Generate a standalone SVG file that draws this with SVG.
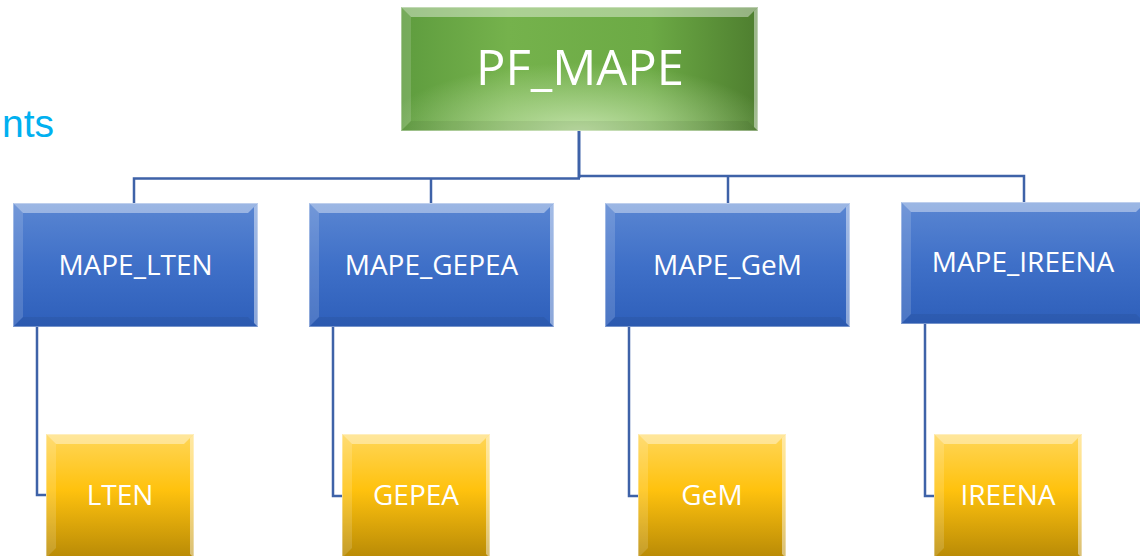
<svg xmlns="http://www.w3.org/2000/svg" width="1140" height="556" viewBox="0 0 1140 556">
<defs>
<linearGradient id="gGreen" x1="0" y1="0" x2="1" y2="0">
<stop offset="0" stop-color="#5E9C3E"/>
<stop offset="0.3" stop-color="#75B24C"/>
<stop offset="0.7" stop-color="#6CAA45"/>
<stop offset="1" stop-color="#4E7E2F"/>
</linearGradient>
<radialGradient id="gGreenGlow" cx="0.5" cy="1" r="0.55" fx="0.5" fy="1">
<stop offset="0" stop-color="#C8E6B0" stop-opacity="0.9"/>
<stop offset="1" stop-color="#C8E6B0" stop-opacity="0"/>
</radialGradient>
<linearGradient id="gBlue" x1="0" y1="0" x2="0" y2="1">
<stop offset="0" stop-color="#5A86D2"/>
<stop offset="0.5" stop-color="#3F70C8"/>
<stop offset="1" stop-color="#2E5FBA"/>
</linearGradient>
<linearGradient id="gYellow" x1="0" y1="0" x2="0" y2="1">
<stop offset="0" stop-color="#FFD659"/>
<stop offset="0.45" stop-color="#FFC20E"/>
<stop offset="1" stop-color="#B88A06"/>
</linearGradient>
<style>
.conn{fill:none;stroke:#3E62A8;stroke-width:2.5}
.btop{fill:#ffffff;fill-opacity:0.4}
.bleft{fill:#ffffff;fill-opacity:0.15}
.bright{fill:#ffffff;fill-opacity:0.45}
.bbot{fill:#000000;fill-opacity:0.06}
.edge{fill:none;stroke:#ffffff;stroke-opacity:0.35;stroke-width:1}
.lbl{font-family:"Open Sans","Noto Sans",sans-serif;fill:#ffffff;text-anchor:middle}
.t28{font-size:28px}
.t49{font-size:49px}
</style>
</defs>
<rect width="1140" height="556" fill="#ffffff"/>
<text x="2" y="137" font-family="Liberation Sans, Arial, sans-serif" font-size="39" fill="#00B0F0">nts</text>

<g id="connectors">
<path class="conn" d="M579 131 V178" style="stroke-width:3"/>
<path class="conn" d="M134 203 V178.5 H580"/>
<path class="conn" d="M431 178.5 V203"/>
<path class="conn" d="M579 176 H1024 V202"/>
<path class="conn" d="M728 176 V203"/>
<path class="conn" d="M37 327 V495 H46"/>
<path class="conn" d="M333 327 V496 H342"/>
<path class="conn" d="M629 327 V496 H638"/>
<path class="conn" d="M925 324 V496 H934"/>
</g>

<g id="node-pf-mape">
<rect x="401" y="7" width="357" height="124" fill="url(#gGreen)"/>
<rect x="401" y="7" width="357" height="124" fill="url(#gGreenGlow)"/>
<polygon class="btop" points="401,7 758,7 748,17 411,17"/>
<polygon class="bleft" points="401,7 411,17 411,121 401,131"/>
<polygon class="bright" points="758,7 758,131 754,127 754,11"/>
<polygon class="bbot" points="401,131 758,131 748,121 411,121"/>
<rect class="edge" x="401.5" y="7.5" width="356" height="123"/>
<text class="lbl t49" x="580" y="85">PF_MAPE</text>
</g>

<g id="node-mape-lten">
<rect x="13" y="203" width="245" height="124" fill="url(#gBlue)"/>
<polygon class="btop" points="13,203 258,203 248,213 23,213"/>
<polygon class="bleft" points="13,203 23,213 23,317 13,327"/>
<polygon class="bright" points="258,203 258,327 254,323 254,207"/>
<polygon class="bbot" points="13,327 258,327 248,317 23,317"/>
<rect class="edge" x="13.5" y="203.5" width="244" height="123"/>
<text class="lbl t28" x="135.5" y="275">MAPE_LTEN</text>
</g>

<g id="node-mape-gepea">
<rect x="309" y="203" width="245" height="124" fill="url(#gBlue)"/>
<polygon class="btop" points="309,203 554,203 544,213 319,213"/>
<polygon class="bleft" points="309,203 319,213 319,317 309,327"/>
<polygon class="bright" points="554,203 554,327 550,323 550,207"/>
<polygon class="bbot" points="309,327 554,327 544,317 319,317"/>
<rect class="edge" x="309.5" y="203.5" width="244" height="123"/>
<text class="lbl t28" x="431.5" y="275">MAPE_GEPEA</text>
</g>

<g id="node-mape-gem">
<rect x="605" y="203" width="245" height="124" fill="url(#gBlue)"/>
<polygon class="btop" points="605,203 850,203 840,213 615,213"/>
<polygon class="bleft" points="605,203 615,213 615,317 605,327"/>
<polygon class="bright" points="850,203 850,327 846,323 846,207"/>
<polygon class="bbot" points="605,327 850,327 840,317 615,317"/>
<rect class="edge" x="605.5" y="203.5" width="244" height="123"/>
<text class="lbl t28" x="727.5" y="275">MAPE_GeM</text>
</g>

<g id="node-mape-ireena">
<rect x="901" y="202" width="245" height="122" fill="url(#gBlue)"/>
<polygon class="btop" points="901,202 1146,202 1136,212 911,212"/>
<polygon class="bleft" points="901,202 911,212 911,314 901,324"/>
<polygon class="bbot" points="901,324 1146,324 1136,314 911,314"/>
<rect class="edge" x="901.5" y="202.5" width="244" height="121"/>
<text class="lbl t28" x="1023" y="272">MAPE_IREENA</text>
</g>

<g id="node-lten">
<rect x="46" y="434" width="148" height="124" fill="url(#gYellow)"/>
<polygon class="btop" points="46,434 194,434 184,444 56,444"/>
<polygon class="bleft" points="46,434 56,444 56,548 46,558"/>
<polygon class="bright" points="194,434 194,558 190,554 190,438"/>
<rect class="edge" x="46.5" y="434.5" width="147" height="123"/>
<text class="lbl t28" x="120" y="505">LTEN</text>
</g>

<g id="node-gepea">
<rect x="342" y="434" width="148" height="124" fill="url(#gYellow)"/>
<polygon class="btop" points="342,434 490,434 480,444 352,444"/>
<polygon class="bleft" points="342,434 352,444 352,548 342,558"/>
<polygon class="bright" points="490,434 490,558 486,554 486,438"/>
<rect class="edge" x="342.5" y="434.5" width="147" height="123"/>
<text class="lbl t28" x="416" y="505">GEPEA</text>
</g>

<g id="node-gem">
<rect x="638" y="434" width="148" height="124" fill="url(#gYellow)"/>
<polygon class="btop" points="638,434 786,434 776,444 648,444"/>
<polygon class="bleft" points="638,434 648,444 648,548 638,558"/>
<polygon class="bright" points="786,434 786,558 782,554 782,438"/>
<rect class="edge" x="638.5" y="434.5" width="147" height="123"/>
<text class="lbl t28" x="712" y="505">GeM</text>
</g>

<g id="node-ireena">
<rect x="934" y="434" width="148" height="124" fill="url(#gYellow)"/>
<polygon class="btop" points="934,434 1082,434 1072,444 944,444"/>
<polygon class="bleft" points="934,434 944,444 944,548 934,558"/>
<polygon class="bright" points="1082,434 1082,558 1078,554 1078,438"/>
<rect class="edge" x="934.5" y="434.5" width="147" height="123"/>
<text class="lbl t28" x="1008" y="505">IREENA</text>
</g>
</svg>
